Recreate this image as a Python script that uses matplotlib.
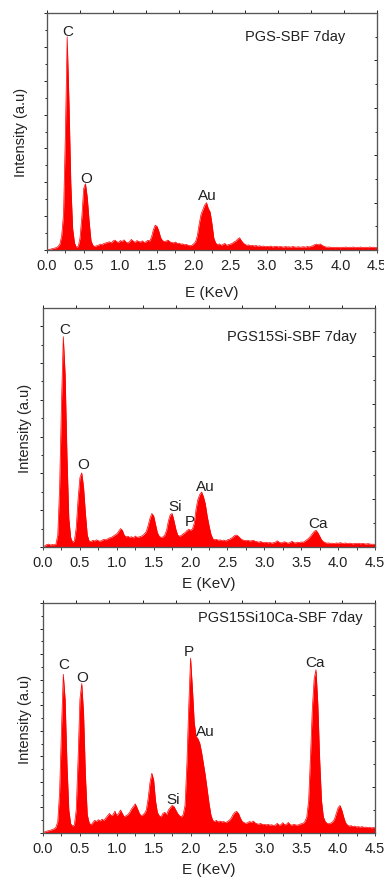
import numpy as np
import matplotlib
matplotlib.use('Agg')
from matplotlib import pyplot as plt
from matplotlib.ticker import MultipleLocator, NullFormatter

plt.rcParams['font.family'] = ['Liberation Sans', 'DejaVu Sans']

# EDS spectra, intensity in % of the axis height, sampled every 0.025 keV from 0 to 4.5
pgs_sbf = [
    0, 0.2, 0.4, 0.6, 0.8, 1.0, 1.5, 2.5, 6, 15,
    48, 90, 62, 28, 9, 3, 1.2, 1.5, 5, 14,
    26, 28, 22, 12, 4, 2, 1.5, 1.8, 2.0, 2.5,
    2.2, 2.8, 3.0, 3.2, 3.5, 3.0, 3.8, 4.2, 3.5, 3.2,
    4.0, 3.6, 4.3, 3.4, 3.0, 3.5, 4.5, 3.8, 3.2, 4.0,
    3.6, 3.4, 3.9, 3.2, 3.5, 4.1, 3.8, 5.5, 8.5, 10.5,
    10.0, 8, 5.2, 4.0, 3.6, 3.8, 4.2, 3.5, 3.2, 3.0,
    3.4, 2.8, 2.9, 2.5, 2.6, 2.2, 2.4, 2.0, 1.8, 2.0,
    2.6, 3.5, 6, 11, 15, 17, 19, 20, 17.5, 16,
    11, 5, 3, 2.2, 2.6, 2.0, 2.4, 2.8, 2.0, 2.3,
    2.5, 2.8, 3.4, 3.8, 4.6, 5.2, 4.0, 3.0, 2.4, 2.0,
    2.2, 1.8, 2.0, 1.7, 1.9, 1.6, 1.8, 1.5, 1.7, 1.4,
    1.6, 1.4, 1.7, 1.3, 1.5, 1.6, 1.3, 1.5, 1.4, 1.2,
    1.5, 1.3, 1.4, 1.2, 1.5, 1.3, 1.2, 1.4, 1.2, 1.3,
    1.4, 1.2, 1.5, 1.3, 1.6, 1.8, 2.3, 2.5, 2.2, 2.6,
    2.0, 1.6, 1.3, 1.2, 1.3, 1.1, 1.2, 1.0, 1.2, 1.1,
    1.0, 1.2, 1.1, 1.3, 1.0, 1.2, 1.1, 1.3, 1.0, 1.2,
    1.1, 1.3, 1.0, 1.1, 1.2, 1.0, 1.3, 1.1, 1.2, 1.0,
    1.1,
]
pgs15si_sbf = [
    0, 0.5, 1.0, 1.2, 0.8, 1.0, 0.9, 1.2, 5, 25,
    60, 88, 72, 38, 12, 4, 2, 2.5, 8, 20,
    29, 31, 25, 14, 5, 2.5, 2.2, 2.8, 2.5, 3.0,
    2.6, 2.4, 2.8, 3.2, 3.0, 3.4, 3.8, 4.0, 4.5, 5.0,
    5.5, 6.5, 7.7, 7.0, 5.0, 4.2, 4.5, 4.0, 4.3, 3.8,
    4.6, 4.0, 4.2, 4.4, 4.8, 5.5, 6.5, 9, 12, 14,
    13, 9.5, 6, 4.5, 4.0, 4.2, 5.0, 7, 11, 13.5,
    14, 11, 7.5, 5, 4.5, 4.8, 5.5, 6.0, 6.8, 7.4,
    7.0, 7.5, 10, 16, 20, 22, 23, 21, 18, 13,
    9, 5.5, 3.5, 3.0, 3.2, 2.8, 3.0, 2.6, 2.9, 2.5,
    3.0, 3.2, 3.6, 4.2, 4.8, 5.0, 4.4, 3.6, 3.0, 2.8,
    2.6, 2.8, 2.5, 2.6, 2.8, 2.4, 2.2, 2.0, 2.3, 1.9,
    1.8, 2.0, 1.7, 1.9, 1.6, 1.8, 2.0, 2.6, 2.0, 1.7,
    1.9, 2.2, 1.8, 1.6, 1.9, 2.4, 1.8, 1.7, 2.0, 1.8,
    2.1, 2.0, 2.4, 3.0, 3.6, 4.5, 5.5, 6.5, 7.0, 6.0,
    4.5, 3.0, 2.2, 1.8, 1.6, 1.7, 1.5, 1.6, 1.4, 1.7,
    1.5, 1.8, 1.6, 1.5, 1.7, 1.4, 1.6, 1.5, 1.3, 1.5,
    1.4, 1.6, 1.3, 1.5, 1.4, 1.2, 1.4, 1.3, 1.1, 1.2,
    1.0,
]
pgs15si10ca_sbf = [
    0.3, 0.5, 0.8, 1.0, 1.2, 1.5, 1.8, 2.5, 5, 18,
    45, 69, 58, 30, 10, 4, 3, 3.5, 10, 32,
    58, 65, 52, 25, 8, 4.5, 3.5, 4.5, 5.5, 5.0,
    5.8, 5.2, 6.0, 5.5, 6.5, 7.5, 8.5, 7.5, 8.0, 9.5,
    7.5, 8.5, 10, 8.5, 7.0, 7.5, 8.0, 9.0, 10.5, 11.5,
    12.7, 11, 9.0, 7.5, 7.8, 8.5, 10, 15, 22, 26,
    23, 14, 9, 7.5, 7.0, 8.5, 9.0, 8.0, 10, 11,
    12, 11.5, 10, 8.5, 7.5, 7.0, 8.0, 12, 30, 55,
    76, 63, 48, 42, 41, 39, 35, 30, 25, 19,
    13, 8, 5.5, 5.0, 5.5, 4.8, 5.2, 4.8, 5.0, 4.5,
    5.0, 5.5, 6.5, 8.0, 9.0, 9.4, 8.5, 6.5, 5.0, 4.5,
    4.2, 4.5, 5.0, 4.6, 5.2, 4.4, 4.0, 3.8, 4.2, 3.6,
    3.8, 3.5, 3.8, 3.4, 3.6, 3.2, 3.5, 4.2, 3.4, 3.6,
    4.5, 3.5, 3.8, 4.6, 3.6, 3.4, 3.8, 3.5, 3.4, 3.8,
    4.0, 4.2, 5.0, 7, 14, 33, 54, 67, 71, 56,
    32, 14, 7, 5, 4.2, 4.0, 4.3, 4.8, 6.0, 8.5,
    11, 12, 10, 7, 4.5, 3.5, 3.0, 3.2, 2.8, 3.0,
    2.6, 2.8, 2.5, 2.8, 2.4, 2.6, 2.3, 2.5, 2.2, 2.4,
    2.2,
]

sample_names = ['PGS-SBF 7day', 'PGS15Si-SBF 7day', 'PGS15Si10Ca-SBF 7day']
peak_names = [
    ['C', 'O', 'Au'],
    ['C', 'O', 'Si', 'P', 'Au', 'Ca'],
    ['C', 'O', 'P', 'Au', 'Si', 'Ca'],
]

# layout: axes rectangles (figure fractions), label spots (keV, fraction of height)
panel_rects = [
    [0.1224, 0.7144, 0.8594, 0.2696],
    [0.1120, 0.3766, 0.8646, 0.2719],
    [0.1120, 0.0512, 0.8646, 0.2617],
]
peak_spots = [
    [(0.28, 0.925), (0.53, 0.304), (2.19, 0.232)],
    [(0.30, 0.912), (0.55, 0.347), (1.79, 0.173), (1.99, 0.110), (2.195, 0.257), (3.73, 0.100)],
    [(0.285, 0.735), (0.525, 0.677), (1.98, 0.793), (2.195, 0.445), (1.77, 0.148), (3.68, 0.742)],
]
name_spots = [(3.38, 0.903), (3.37, 0.882), (3.21, 0.940)]
left_steps = [100 / 7, 15.4, 100 / 9]
ylabel_pads = [8, 2, 2]
xlabel_pads = [9, 5, 5]


def plot_spectrum(ax, values, name, peaks, spots, name_spot, left_step, ylabel_pad, xlabel_pad):
    energy = np.linspace(0, 4.5, len(values))
    ax.fill_between(energy, 0, values, color='#ff0000', lw=0)
    ax.plot(energy, values, color='#ff0000', lw=0.5)
    ax.set_xlim(0, 4.5)
    ax.set_ylim(0, 100)

    ax.xaxis.set_major_locator(MultipleLocator(0.5))
    ax.xaxis.set_minor_locator(MultipleLocator(0.25))
    ax.yaxis.set_major_locator(MultipleLocator(left_step))
    ax.yaxis.set_minor_locator(MultipleLocator(left_step / 2))
    ax.yaxis.set_major_formatter(NullFormatter())
    ax.tick_params(axis='x', which='both', direction='out', length=2.5, width=0.6,
                   labelsize=10.5, pad=3.5, colors='#222222')
    ax.tick_params(axis='y', which='major', direction='out', length=2.5, width=0.6)
    ax.tick_params(axis='y', which='minor', direction='out', length=1.8, width=0.6)
    for spine in ax.spines.values():
        spine.set_color('#555555')
        spine.set_linewidth(0.8)

    right = ax.twinx()
    right.set_ylim(0, 1)
    right.yaxis.set_major_locator(MultipleLocator(0.2))
    right.yaxis.set_minor_locator(MultipleLocator(0.1))
    right.yaxis.set_major_formatter(NullFormatter())
    right.tick_params(axis='y', which='major', direction='in', length=2.5, width=0.6)
    right.tick_params(axis='y', which='minor', direction='in', length=1.8, width=0.6)

    top = ax.twiny()
    top.set_xlim(0, 4.5)
    top.xaxis.set_major_locator(MultipleLocator(0.45))
    top.xaxis.set_major_formatter(NullFormatter())
    top.tick_params(axis='x', direction='out', length=2.2, width=0.6)
    for twin in (right, top):
        for spine in twin.spines.values():
            spine.set_color('#555555')
            spine.set_linewidth(0.8)

    ax.set_xlabel('E (KeV)', fontsize=11, color='#222222', labelpad=xlabel_pad)
    ax.set_ylabel('Intensity (a.u)', fontsize=10.5, color='#222222', labelpad=ylabel_pad)

    for label, (x, y) in zip(peaks, spots):
        ax.text(x, y * 100, label, fontsize=11, ha='center', va='center', color='#222222')
    ax.text(name_spot[0], name_spot[1] * 100, name, fontsize=10.5,
            ha='center', va='center', color='#222222')


fig = plt.figure(figsize=(3.84, 8.79), dpi=100)
spectra = [pgs_sbf, pgs15si_sbf, pgs15si10ca_sbf]
for i, values in enumerate(spectra):
    ax = fig.add_axes(panel_rects[i])
    plot_spectrum(ax, values, sample_names[i], peak_names[i], peak_spots[i],
                  name_spots[i], left_steps[i], ylabel_pads[i], xlabel_pads[i])

fig.savefig('out.png', dpi=100)
